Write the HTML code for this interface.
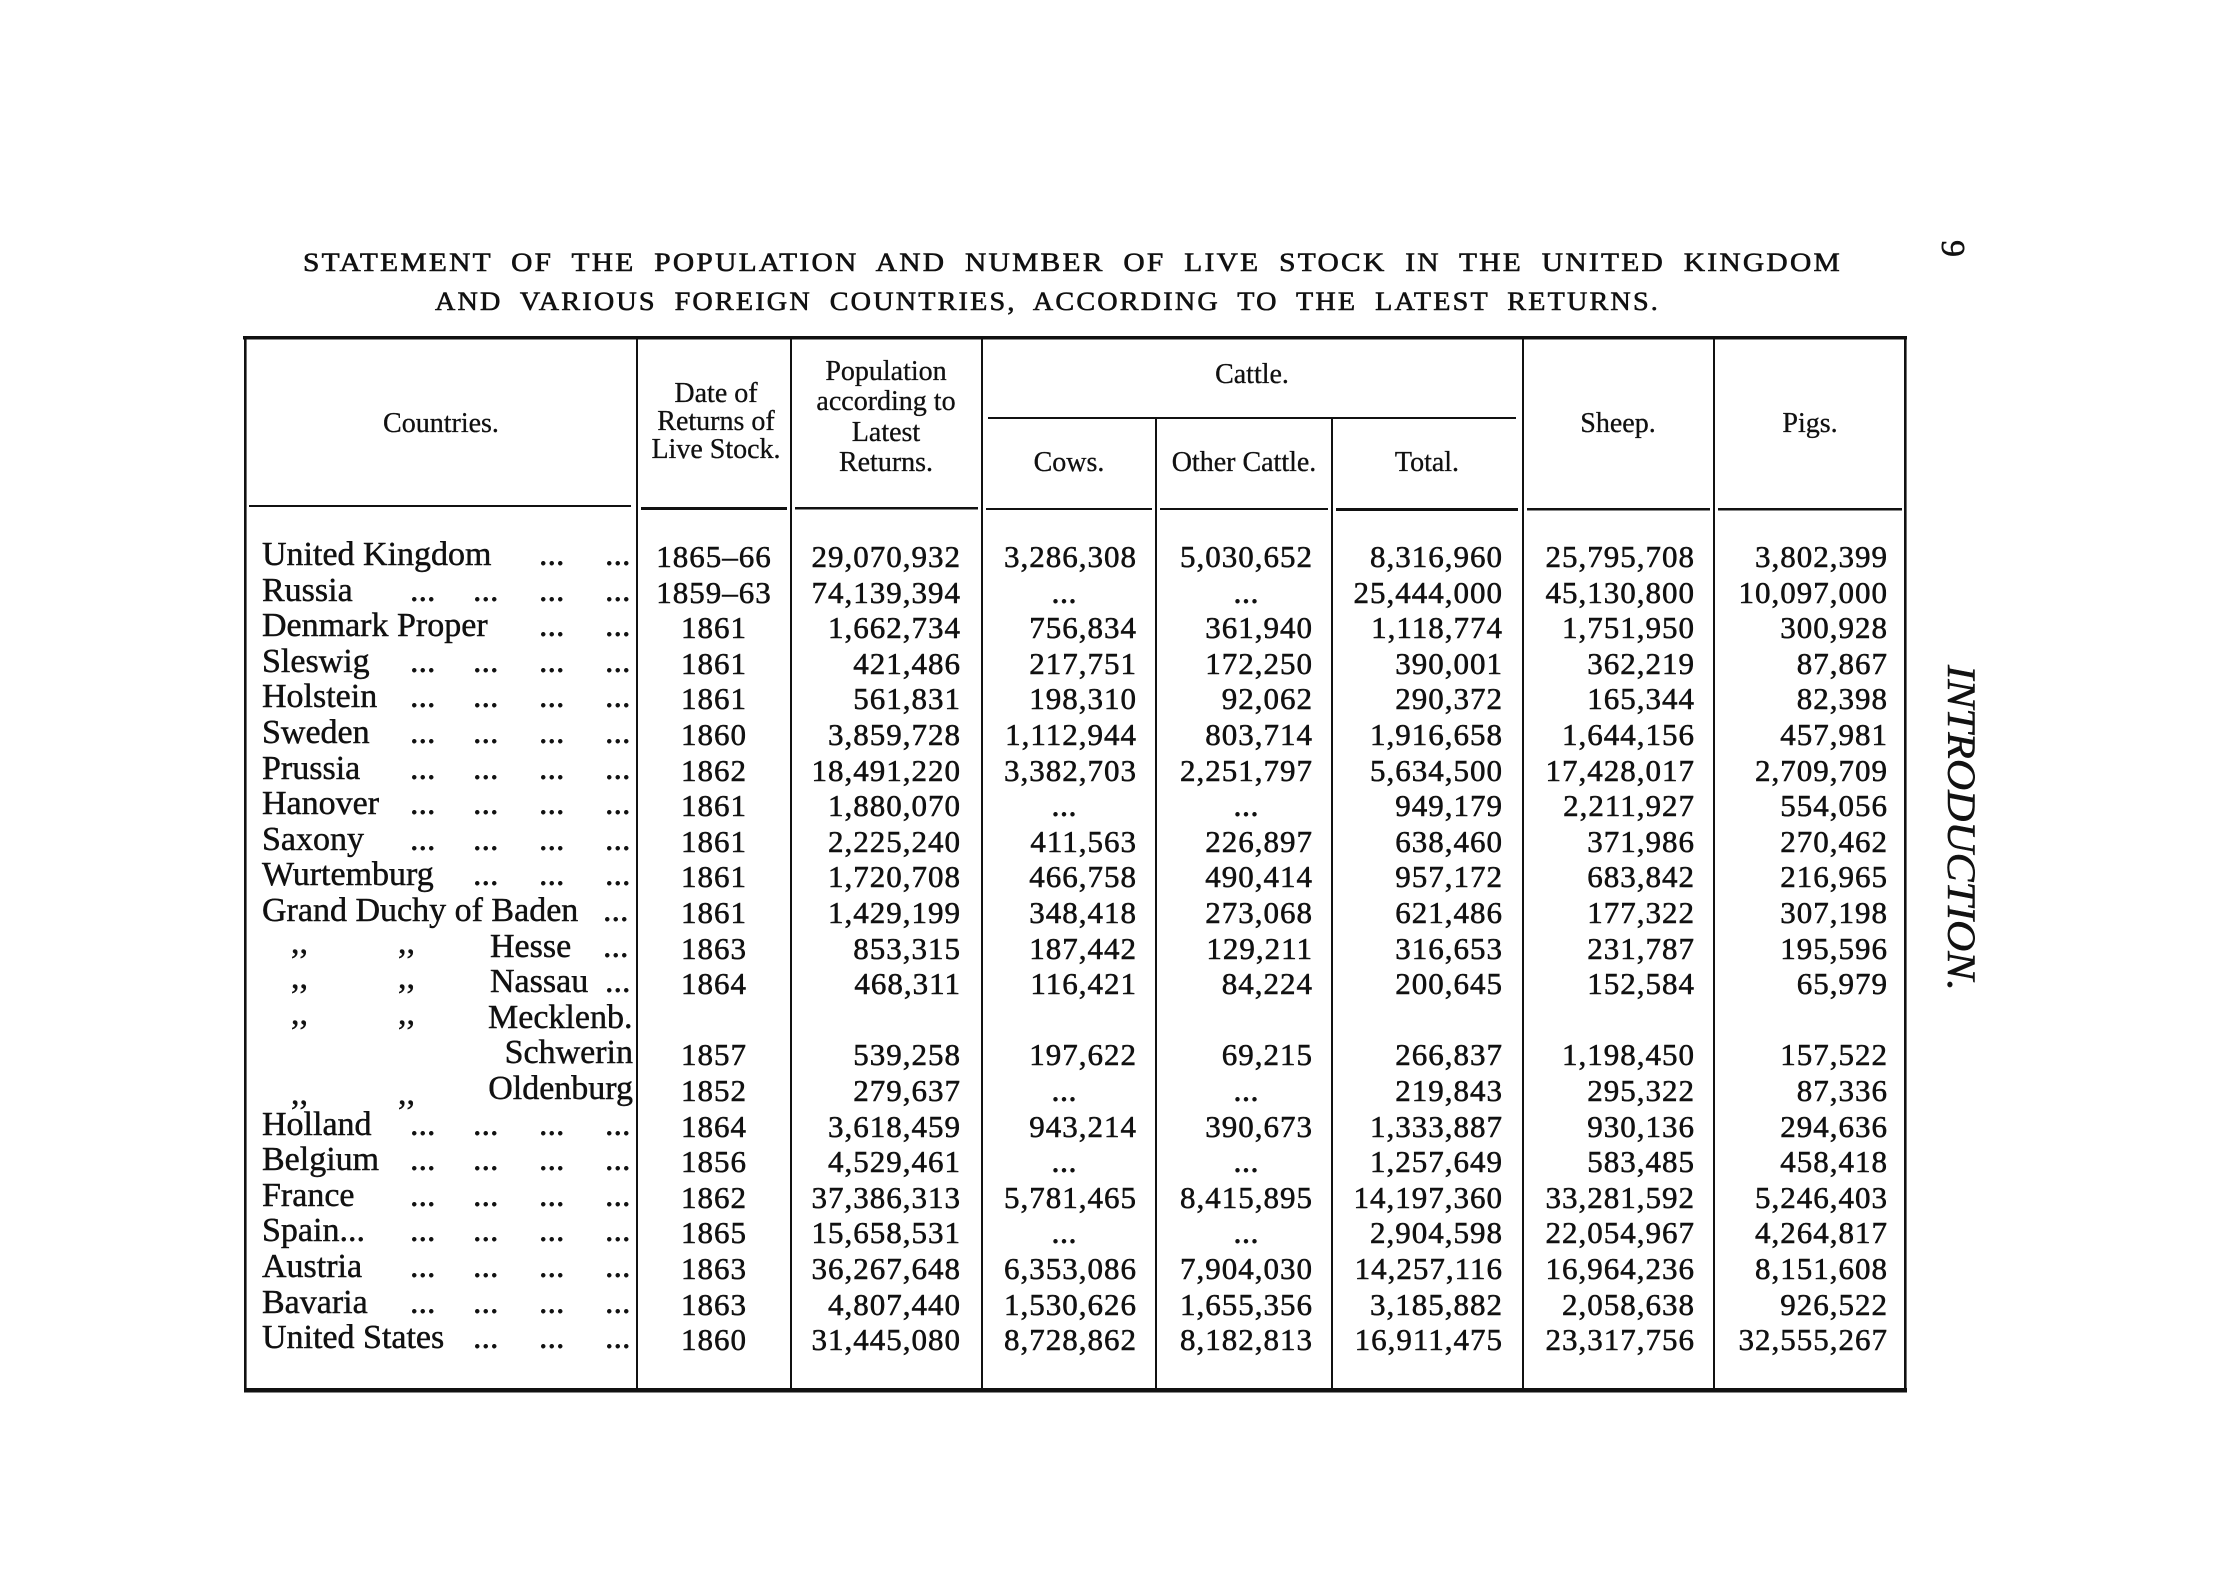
<!DOCTYPE html>
<html>
<head>
<meta charset="utf-8">
<style>
  html, body { margin: 0; padding: 0; background: #ffffff; }
  body { width: 2216px; height: 1569px; overflow: hidden; }
  svg { display: block; }
  text { font-family: "Liberation Serif", "DejaVu Serif", serif; fill: #111; }
  .t { font-size: 34px; stroke: #111; stroke-width: 0.45px; }
  .n { font-size: 31px; letter-spacing: 1px; stroke: #111; stroke-width: 0.55px; }
  .h { font-size: 28px; stroke: #111; stroke-width: 0.3px; }
  .title { font-size: 26px; letter-spacing: 2px; word-spacing: 8px; stroke: #111; stroke-width: 0.6px; }
</style>
</head>
<body>
<svg width="2216" height="1569" viewBox="0 0 2216 1569" xmlns="http://www.w3.org/2000/svg">
  <rect x="0" y="0" width="2216" height="1569" fill="#ffffff"/>

  <!-- Title -->
  <text class="title" x="303" y="271" textLength="1539" lengthAdjust="spacingAndGlyphs">STATEMENT OF THE POPULATION AND NUMBER OF LIVE STOCK IN THE UNITED KINGDOM</text>
  <text class="title" x="435" y="310" textLength="1225" lengthAdjust="spacingAndGlyphs">AND VARIOUS FOREIGN COUNTRIES, ACCORDING TO THE LATEST RETURNS.</text>

  <!-- Side page number and running head -->
  <text transform="translate(1942,240) rotate(90)" style="font-size:34px;stroke:#111;stroke-width:0.5px;">9</text>
  <text transform="translate(1948,665) rotate(90)" style="font-size:40px;font-style:italic;stroke:#111;stroke-width:0.5px;" textLength="326" lengthAdjust="spacingAndGlyphs">INTRODUCTION.</text>

  <!-- Table frame -->
  <rect x="243" y="336" width="1664" height="3.5" fill="#111"/>
  <rect x="244" y="1388" width="1663" height="4.5" fill="#111"/>
  <rect x="244" y="337" width="2.6" height="1055" fill="#111"/>
  <rect x="1904" y="339" width="2.6" height="1053" fill="#111"/>

  <!-- Main column lines -->
  <rect x="636" y="339" width="2" height="1049" fill="#111"/>
  <rect x="790" y="339" width="2" height="1049" fill="#111"/>
  <rect x="981" y="339" width="2" height="1049" fill="#111"/>
  <rect x="1522" y="339" width="2" height="1049" fill="#111"/>
  <rect x="1713" y="339" width="2" height="1049" fill="#111"/>
  <!-- Cattle sub-columns -->
  <rect x="1155" y="419" width="2" height="969" fill="#111"/>
  <rect x="1331" y="419" width="2" height="969" fill="#111"/>

  <!-- Cattle underline -->
  <rect x="988" y="417" width="528" height="2" fill="#111"/>

  <!-- Header bottom rules -->
  <rect x="249" y="505" width="382" height="2" fill="#111"/>
  <rect x="641" y="507" width="146" height="3" fill="#111"/>
  <rect x="795" y="507" width="183" height="2.5" fill="#111"/>
  <rect x="986" y="508" width="166" height="2" fill="#111"/>
  <rect x="1160" y="508" width="168" height="2" fill="#111"/>
  <rect x="1336" y="508" width="182" height="3" fill="#111"/>
  <rect x="1527" y="508" width="183" height="2.5" fill="#111"/>
  <rect x="1718" y="508" width="184" height="2.5" fill="#111"/>

  <!-- Header labels -->
  <text class="h" x="441" y="432" text-anchor="middle">Countries.</text>
  <text class="h" x="716" y="402" text-anchor="middle">Date of</text>
  <text class="h" x="716" y="430" text-anchor="middle">Returns of</text>
  <text class="h" x="716" y="458" text-anchor="middle">Live Stock.</text>
  <text class="h" x="886" y="380" text-anchor="middle">Population</text>
  <text class="h" x="886" y="410" text-anchor="middle">according to</text>
  <text class="h" x="886" y="441" text-anchor="middle">Latest</text>
  <text class="h" x="886" y="471" text-anchor="middle">Returns.</text>
  <text class="h" x="1252" y="383" text-anchor="middle">Cattle.</text>
  <text class="h" x="1069" y="471" text-anchor="middle">Cows.</text>
  <text class="h" x="1244" y="471" text-anchor="middle">Other Cattle.</text>
  <text class="h" x="1427" y="471" text-anchor="middle">Total.</text>
  <text class="h" x="1618" y="432" text-anchor="middle">Sheep.</text>
  <text class="h" x="1810" y="432" text-anchor="middle">Pigs.</text>

  <!-- Country names -->
  <text class="t" x="262" y="565">United Kingdom</text>
  <text class="t" x="262" y="601">Russia</text>
  <text class="t" x="262" y="636">Denmark Proper</text>
  <text class="t" x="262" y="672">Sleswig</text>
  <text class="t" x="262" y="707">Holstein</text>
  <text class="t" x="262" y="743">Sweden</text>
  <text class="t" x="262" y="779">Prussia</text>
  <text class="t" x="262" y="814">Hanover</text>
  <text class="t" x="262" y="850">Saxony</text>
  <text class="t" x="262" y="885">Wurtemburg</text>
  <text class="t" x="262" y="921">Grand Duchy of Baden</text>
  <text class="t" x="490" y="957">Hesse</text>
  <text class="t" x="490" y="992">Nassau</text>
  <text class="t" x="488" y="1028">Mecklenb.</text>
  <text class="t" x="633" y="1063" text-anchor="end">Schwerin</text>
  <text class="t" x="633" y="1099" text-anchor="end">Oldenburg</text>
  <text class="t" x="262" y="1135">Holland</text>
  <text class="t" x="262" y="1170">Belgium</text>
  <text class="t" x="262" y="1206">France</text>
  <text class="t" x="262" y="1241">Spain...</text>
  <text class="t" x="262" y="1277">Austria</text>
  <text class="t" x="262" y="1313">Bavaria</text>
  <text class="t" x="262" y="1348">United States</text>

  <!-- ditto marks -->
  <text class="t" x="291" y="953">,,</text><text class="t" x="398" y="953">,,</text>
  <text class="t" x="291" y="988">,,</text><text class="t" x="398" y="988">,,</text>
  <text class="t" x="291" y="1024">,,</text><text class="t" x="398" y="1024">,,</text>
  <text class="t" x="291" y="1104">,,</text><text class="t" x="398" y="1104">,,</text>

  <!-- leader dots -->
  <text class="t" x="539" y="565">...</text><text class="t" x="605" y="565">...</text>
  <text class="t" x="410" y="601">...</text><text class="t" x="473" y="601">...</text><text class="t" x="539" y="601">...</text><text class="t" x="605" y="601">...</text>
  <text class="t" x="539" y="636">...</text><text class="t" x="605" y="636">...</text>
  <text class="t" x="410" y="672">...</text><text class="t" x="473" y="672">...</text><text class="t" x="539" y="672">...</text><text class="t" x="605" y="672">...</text>
  <text class="t" x="410" y="707">...</text><text class="t" x="473" y="707">...</text><text class="t" x="539" y="707">...</text><text class="t" x="605" y="707">...</text>
  <text class="t" x="410" y="743">...</text><text class="t" x="473" y="743">...</text><text class="t" x="539" y="743">...</text><text class="t" x="605" y="743">...</text>
  <text class="t" x="410" y="779">...</text><text class="t" x="473" y="779">...</text><text class="t" x="539" y="779">...</text><text class="t" x="605" y="779">...</text>
  <text class="t" x="410" y="814">...</text><text class="t" x="473" y="814">...</text><text class="t" x="539" y="814">...</text><text class="t" x="605" y="814">...</text>
  <text class="t" x="410" y="850">...</text><text class="t" x="473" y="850">...</text><text class="t" x="539" y="850">...</text><text class="t" x="605" y="850">...</text>
  <text class="t" x="473" y="885">...</text><text class="t" x="539" y="885">...</text><text class="t" x="605" y="885">...</text>
  <text class="t" x="603" y="921">...</text>
  <text class="t" x="603" y="957">...</text>
  <text class="t" x="605" y="992">...</text>
  <text class="t" x="410" y="1135">...</text><text class="t" x="473" y="1135">...</text><text class="t" x="539" y="1135">...</text><text class="t" x="605" y="1135">...</text>
  <text class="t" x="410" y="1170">...</text><text class="t" x="473" y="1170">...</text><text class="t" x="539" y="1170">...</text><text class="t" x="605" y="1170">...</text>
  <text class="t" x="410" y="1206">...</text><text class="t" x="473" y="1206">...</text><text class="t" x="539" y="1206">...</text><text class="t" x="605" y="1206">...</text>
  <text class="t" x="410" y="1241">...</text><text class="t" x="473" y="1241">...</text><text class="t" x="539" y="1241">...</text><text class="t" x="605" y="1241">...</text>
  <text class="t" x="410" y="1277">...</text><text class="t" x="473" y="1277">...</text><text class="t" x="539" y="1277">...</text><text class="t" x="605" y="1277">...</text>
  <text class="t" x="410" y="1313">...</text><text class="t" x="473" y="1313">...</text><text class="t" x="539" y="1313">...</text><text class="t" x="605" y="1313">...</text>
  <text class="t" x="473" y="1348">...</text><text class="t" x="539" y="1348">...</text><text class="t" x="605" y="1348">...</text>

  <!-- Dates (centered) -->
  <g text-anchor="middle">
    <text class="n" x="714" y="567">1865–66</text>
    <text class="n" x="714" y="603">1859–63</text>
    <text class="n" x="714" y="638">1861</text>
    <text class="n" x="714" y="674">1861</text>
    <text class="n" x="714" y="709">1861</text>
    <text class="n" x="714" y="745">1860</text>
    <text class="n" x="714" y="781">1862</text>
    <text class="n" x="714" y="816">1861</text>
    <text class="n" x="714" y="852">1861</text>
    <text class="n" x="714" y="887">1861</text>
    <text class="n" x="714" y="923">1861</text>
    <text class="n" x="714" y="959">1863</text>
    <text class="n" x="714" y="994">1864</text>
    <text class="n" x="714" y="1065">1857</text>
    <text class="n" x="714" y="1101">1852</text>
    <text class="n" x="714" y="1137">1864</text>
    <text class="n" x="714" y="1172">1856</text>
    <text class="n" x="714" y="1208">1862</text>
    <text class="n" x="714" y="1243">1865</text>
    <text class="n" x="714" y="1279">1863</text>
    <text class="n" x="714" y="1315">1863</text>
    <text class="n" x="714" y="1350">1860</text>
  </g>

  <!-- Population -->
  <g text-anchor="end">
    <text class="n" x="961" y="567">29,070,932</text>
    <text class="n" x="961" y="603">74,139,394</text>
    <text class="n" x="961" y="638">1,662,734</text>
    <text class="n" x="961" y="674">421,486</text>
    <text class="n" x="961" y="709">561,831</text>
    <text class="n" x="961" y="745">3,859,728</text>
    <text class="n" x="961" y="781">18,491,220</text>
    <text class="n" x="961" y="816">1,880,070</text>
    <text class="n" x="961" y="852">2,225,240</text>
    <text class="n" x="961" y="887">1,720,708</text>
    <text class="n" x="961" y="923">1,429,199</text>
    <text class="n" x="961" y="959">853,315</text>
    <text class="n" x="961" y="994">468,311</text>
    <text class="n" x="961" y="1065">539,258</text>
    <text class="n" x="961" y="1101">279,637</text>
    <text class="n" x="961" y="1137">3,618,459</text>
    <text class="n" x="961" y="1172">4,529,461</text>
    <text class="n" x="961" y="1208">37,386,313</text>
    <text class="n" x="961" y="1243">15,658,531</text>
    <text class="n" x="961" y="1279">36,267,648</text>
    <text class="n" x="961" y="1315">4,807,440</text>
    <text class="n" x="961" y="1350">31,445,080</text>
  </g>

  <!-- Cows -->
  <g text-anchor="end">
    <text class="n" x="1137" y="567">3,286,308</text>
    <text class="n" x="1137" y="638">756,834</text>
    <text class="n" x="1137" y="674">217,751</text>
    <text class="n" x="1137" y="709">198,310</text>
    <text class="n" x="1137" y="745">1,112,944</text>
    <text class="n" x="1137" y="781">3,382,703</text>
    <text class="n" x="1137" y="852">411,563</text>
    <text class="n" x="1137" y="887">466,758</text>
    <text class="n" x="1137" y="923">348,418</text>
    <text class="n" x="1137" y="959">187,442</text>
    <text class="n" x="1137" y="994">116,421</text>
    <text class="n" x="1137" y="1065">197,622</text>
    <text class="n" x="1137" y="1137">943,214</text>
    <text class="n" x="1137" y="1208">5,781,465</text>
    <text class="n" x="1137" y="1279">6,353,086</text>
    <text class="n" x="1137" y="1315">1,530,626</text>
    <text class="n" x="1137" y="1350">8,728,862</text>
  </g>
  <g text-anchor="middle">
    <text class="t" x="1064" y="603">...</text>
    <text class="t" x="1064" y="816">...</text>
    <text class="t" x="1064" y="1101">...</text>
    <text class="t" x="1064" y="1172">...</text>
    <text class="t" x="1064" y="1243">...</text>
    <text class="t" x="1246" y="603">...</text>
    <text class="t" x="1246" y="816">...</text>
    <text class="t" x="1246" y="1101">...</text>
    <text class="t" x="1246" y="1172">...</text>
    <text class="t" x="1246" y="1243">...</text>
  </g>

  <!-- Other Cattle -->
  <g text-anchor="end">
    <text class="n" x="1313" y="567">5,030,652</text>
    <text class="n" x="1313" y="638">361,940</text>
    <text class="n" x="1313" y="674">172,250</text>
    <text class="n" x="1313" y="709">92,062</text>
    <text class="n" x="1313" y="745">803,714</text>
    <text class="n" x="1313" y="781">2,251,797</text>
    <text class="n" x="1313" y="852">226,897</text>
    <text class="n" x="1313" y="887">490,414</text>
    <text class="n" x="1313" y="923">273,068</text>
    <text class="n" x="1313" y="959">129,211</text>
    <text class="n" x="1313" y="994">84,224</text>
    <text class="n" x="1313" y="1065">69,215</text>
    <text class="n" x="1313" y="1137">390,673</text>
    <text class="n" x="1313" y="1208">8,415,895</text>
    <text class="n" x="1313" y="1279">7,904,030</text>
    <text class="n" x="1313" y="1315">1,655,356</text>
    <text class="n" x="1313" y="1350">8,182,813</text>
  </g>

  <!-- Total -->
  <g text-anchor="end">
    <text class="n" x="1503" y="567">8,316,960</text>
    <text class="n" x="1503" y="603">25,444,000</text>
    <text class="n" x="1503" y="638">1,118,774</text>
    <text class="n" x="1503" y="674">390,001</text>
    <text class="n" x="1503" y="709">290,372</text>
    <text class="n" x="1503" y="745">1,916,658</text>
    <text class="n" x="1503" y="781">5,634,500</text>
    <text class="n" x="1503" y="816">949,179</text>
    <text class="n" x="1503" y="852">638,460</text>
    <text class="n" x="1503" y="887">957,172</text>
    <text class="n" x="1503" y="923">621,486</text>
    <text class="n" x="1503" y="959">316,653</text>
    <text class="n" x="1503" y="994">200,645</text>
    <text class="n" x="1503" y="1065">266,837</text>
    <text class="n" x="1503" y="1101">219,843</text>
    <text class="n" x="1503" y="1137">1,333,887</text>
    <text class="n" x="1503" y="1172">1,257,649</text>
    <text class="n" x="1503" y="1208">14,197,360</text>
    <text class="n" x="1503" y="1243">2,904,598</text>
    <text class="n" x="1503" y="1279">14,257,116</text>
    <text class="n" x="1503" y="1315">3,185,882</text>
    <text class="n" x="1503" y="1350">16,911,475</text>
  </g>

  <!-- Sheep -->
  <g text-anchor="end">
    <text class="n" x="1695" y="567">25,795,708</text>
    <text class="n" x="1695" y="603">45,130,800</text>
    <text class="n" x="1695" y="638">1,751,950</text>
    <text class="n" x="1695" y="674">362,219</text>
    <text class="n" x="1695" y="709">165,344</text>
    <text class="n" x="1695" y="745">1,644,156</text>
    <text class="n" x="1695" y="781">17,428,017</text>
    <text class="n" x="1695" y="816">2,211,927</text>
    <text class="n" x="1695" y="852">371,986</text>
    <text class="n" x="1695" y="887">683,842</text>
    <text class="n" x="1695" y="923">177,322</text>
    <text class="n" x="1695" y="959">231,787</text>
    <text class="n" x="1695" y="994">152,584</text>
    <text class="n" x="1695" y="1065">1,198,450</text>
    <text class="n" x="1695" y="1101">295,322</text>
    <text class="n" x="1695" y="1137">930,136</text>
    <text class="n" x="1695" y="1172">583,485</text>
    <text class="n" x="1695" y="1208">33,281,592</text>
    <text class="n" x="1695" y="1243">22,054,967</text>
    <text class="n" x="1695" y="1279">16,964,236</text>
    <text class="n" x="1695" y="1315">2,058,638</text>
    <text class="n" x="1695" y="1350">23,317,756</text>
  </g>

  <!-- Pigs -->
  <g text-anchor="end">
    <text class="n" x="1888" y="567">3,802,399</text>
    <text class="n" x="1888" y="603">10,097,000</text>
    <text class="n" x="1888" y="638">300,928</text>
    <text class="n" x="1888" y="674">87,867</text>
    <text class="n" x="1888" y="709">82,398</text>
    <text class="n" x="1888" y="745">457,981</text>
    <text class="n" x="1888" y="781">2,709,709</text>
    <text class="n" x="1888" y="816">554,056</text>
    <text class="n" x="1888" y="852">270,462</text>
    <text class="n" x="1888" y="887">216,965</text>
    <text class="n" x="1888" y="923">307,198</text>
    <text class="n" x="1888" y="959">195,596</text>
    <text class="n" x="1888" y="994">65,979</text>
    <text class="n" x="1888" y="1065">157,522</text>
    <text class="n" x="1888" y="1101">87,336</text>
    <text class="n" x="1888" y="1137">294,636</text>
    <text class="n" x="1888" y="1172">458,418</text>
    <text class="n" x="1888" y="1208">5,246,403</text>
    <text class="n" x="1888" y="1243">4,264,817</text>
    <text class="n" x="1888" y="1279">8,151,608</text>
    <text class="n" x="1888" y="1315">926,522</text>
    <text class="n" x="1888" y="1350">32,555,267</text>
  </g>
</svg>
</body>
</html>
